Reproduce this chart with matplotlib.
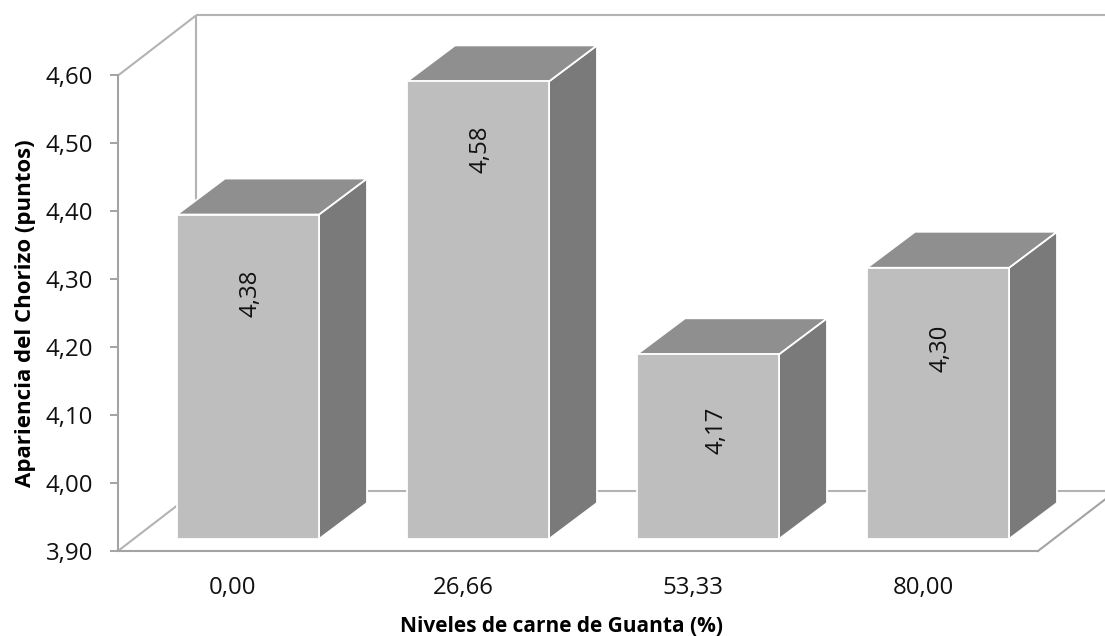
import matplotlib
matplotlib.use("Agg")
import matplotlib.pyplot as plt
from matplotlib.patches import Polygon

plt.rcParams['font.family'] = ['Open Sans', 'DejaVu Sans']

# Data
niveles = ["0,00", "26,66", "53,33", "80,00"]
apariencia = [4.38, 4.58, 4.17, 4.30]
etiquetas = ["4,38", "4,58", "4,17", "4,30"]
y_ticks = [3.90, 4.00, 4.10, 4.20, 4.30, 4.40, 4.50, 4.60]
y_tick_labels = ["3,90", "4,00", "4,10", "4,20", "4,30", "4,40", "4,50", "4,60"]

W, H = 1105, 636
LINE = '#A3A3A3'
LINE_LIGHT = '#B3B3B3'
FRONT = '#BEBEBE'
TOP = '#8F8F8F'
SIDE = '#7A7A7A'
TEXT = '#111111'

# Pixel layout of the front plane and the box depth
left, right, bottom, top = 118, 1038, 551, 75.5
wall_dx, wall_dy = 78, 60
box_dx, box_dy = 48, 36
shift_x = 15
box_base = 539
box_scale = 665.6   # pixels per point for the boxes
base = 3.8925       # value at the foot of the boxes

# Label placement relative to the box top centre, in pixels
label_drop = [79, 68, 76, 81]
label_shift = [2.5, 2.5, 9, 2.5]

def rect(l, r, b, t):
    return [l / W, (H - b) / H, (r - l) / W, (b - t) / H]

fig = plt.figure(figsize=(W / 100, H / 100), dpi=100)

# Front plane: axis, ticks and the wall outline
ax = fig.add_axes(rect(left, right, bottom, top))
ax.set_xlim(-0.5, 3.5)
ax.set_ylim(y_ticks[0], y_ticks[-1])
ax.patch.set_visible(False)
for s in ['top', 'right']:
    ax.spines[s].set_visible(False)
for s in ['left', 'bottom']:
    ax.spines[s].set_color(LINE)
    ax.spines[s].set_linewidth(1.5)
ax.set_yticks(y_ticks)
ax.set_yticklabels(y_tick_labels, fontsize=17.3, color=TEXT)
ax.set_xticks(range(len(niveles)))
ax.set_xticklabels(niveles, fontsize=17.3, color=TEXT)
ax.tick_params(axis='y', length=6, width=1.4, color=LINE, pad=12)
ax.tick_params(axis='x', length=0, pad=18)

ax.set_xlabel("Niveles de carne de Guanta (%)", fontsize=15, fontweight='bold', va='center')
ax.xaxis.set_label_coords(0.4826, -0.158)
ax.set_ylabel("Apariencia del Chorizo (puntos)", fontsize=16, fontweight='bold', va='center')
ax.yaxis.set_label_coords(-0.101, 0.5)

# Walls and floor, depth converted from pixels to data units
px_x = 4 / (right - left)
px_y = (y_ticks[-1] - y_ticks[0]) / (bottom - top)
wx = wall_dx * px_x
wy = wall_dy * px_y
x0, x1 = -0.5, 3.5
y0, y1 = y_ticks[0], y_ticks[-1]
wall_style = dict(color=LINE_LIGHT, lw=1.5, clip_on=False, solid_capstyle='butt')
ax.plot([x0, x0 + wx], [y1, y1 + wy], **wall_style)
ax.plot([x0 + wx, x1 + wx], [y1 + wy, y1 + wy], **wall_style)
ax.plot([x0 + wx, x0 + wx], [y0 + wy, y1 + wy], **wall_style)
ax.plot([x0, x0 + wx], [y0, y0 + wy], **wall_style)
ax.plot([x0 + wx, x1 + wx], [y0 + wy, y0 + wy], **wall_style)
ax.plot([x1, x1 + wx], [y0, y0 + wy], color=LINE, lw=1.5, clip_on=False)

# Boxes sit on their own axes, set back on the floor
ax2 = fig.add_axes(rect(left + shift_x, right + shift_x, box_base, box_base - (y1 - base) * box_scale))
ax2.set_xlim(-0.5, 3.5)
ax2.set_ylim(base, y1)
ax2.axis('off')

bar_w = 142 / 230
dx = box_dx * px_x
dy = box_dy / box_scale
for i, v in enumerate(apariencia):
    l, r = i - bar_w / 2, i + bar_w / 2
    ax2.add_patch(Polygon([(r, base), (r + dx, base + dy), (r + dx, v + dy), (r, v)],
                          facecolor=SIDE, edgecolor='white', lw=1.3, clip_on=False))
    ax2.add_patch(Polygon([(l, v), (r, v), (r + dx, v + dy), (l + dx, v + dy)],
                          facecolor=TOP, edgecolor='white', lw=1.3, clip_on=False))
    ax2.bar(i, v - base, bar_w, bottom=base, color=FRONT, edgecolor='white', linewidth=1.3, clip_on=False)
    ax2.annotate(etiquetas[i], (i, v), xytext=(label_shift[i] * 0.72, -label_drop[i] * 0.72),
                 textcoords='offset points', rotation=90, ha='center', va='center',
                 fontsize=17.3, color=TEXT)

fig.savefig('out.png', dpi=100)
